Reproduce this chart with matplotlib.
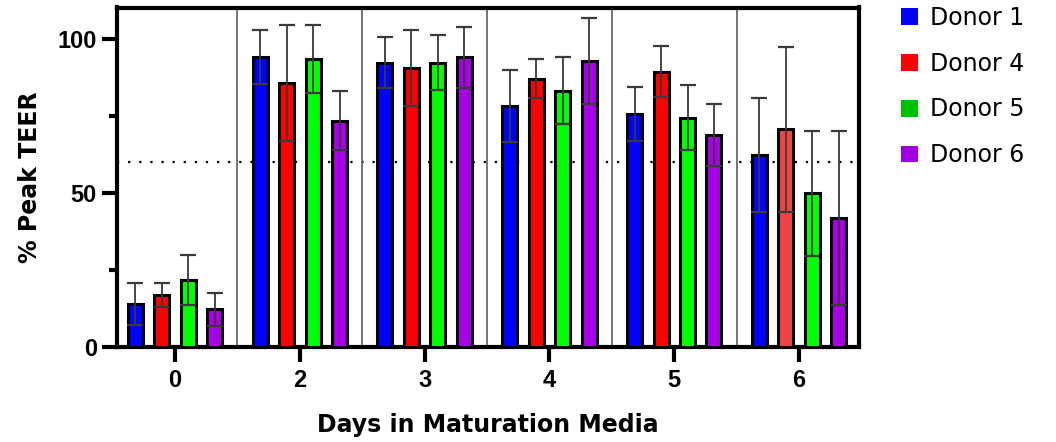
import matplotlib
matplotlib.use("Agg")
import matplotlib.pyplot as plt
from matplotlib.patches import Patch
import numpy as np

# Data: % of peak TEER (mean and SD) per donor and day
days = ["0", "2", "3", "4", "5", "6"]
donors = ["Donor 1", "Donor 4", "Donor 5", "Donor 6"]
donor1_mean = [14.0, 94.2, 92.5, 78.4, 75.8, 62.5]
donor1_sd = [6.8, 8.8, 8.3, 11.8, 8.9, 18.5]
donor4_mean = [16.8, 85.8, 90.7, 87.3, 89.5, 70.8]
donor4_sd = [3.9, 18.9, 12.3, 6.4, 8.3, 26.8]
donor5_mean = [21.8, 93.6, 92.5, 83.4, 74.6, 50.0]
donor5_sd = [8.2, 11.1, 9.0, 11.0, 10.7, 20.3]
donor6_mean = [12.3, 73.6, 94.2, 92.9, 69.0, 42.0]
donor6_sd = [5.4, 9.5, 9.9, 14.0, 10.1, 28.3]
threshold = 60

bar_colors = ["#0000FF", "#FF0000", "#00FF00", "#A800E6"]
legend_colors = ["#0000FF", "#FF0000", "#00BE00", "#A000DC"]
# day 6 bar of Donor 4 is drawn in a lighter red
special_red = "#F04444"

means = [donor1_mean, donor4_mean, donor5_mean, donor6_mean]
sds = [donor1_sd, donor4_sd, donor5_sd, donor6_sd]

tick_font = dict(family="Liberation Sans", size=17, weight="bold")

fig = plt.figure(figsize=(10.56, 4.42), dpi=100)
ax = fig.add_axes([117 / 1056, 1 - 347 / 442, (859 - 117) / 1056, (347 - 7.5) / 442])

x = np.arange(len(days))
step = 0.212
width = 0.12
offsets = [-1.5 * step, -0.5 * step, 0.5 * step, 1.5 * step]

for i in range(len(donors)):
    cols = [bar_colors[i]] * len(days)
    if i == 1:
        cols[-1] = special_red
    ax.bar(x + offsets[i], means[i], width=width, color=cols,
           edgecolor="black", linewidth=2.2, zorder=3)
    ax.errorbar(x + offsets[i], means[i], yerr=sds[i], fmt="none",
                ecolor="#3a3a3a", elinewidth=1.3, capsize=6, capthick=1.6,
                zorder=4)

# threshold line
ax.axhline(threshold, color="black", linestyle=(0, (1, 4)), linewidth=1.6,
           zorder=1)

# group separators
for s in np.arange(0.5, len(days) - 0.5, 1.0):
    ax.axvline(s, color="#6a6a6a", linewidth=1.3, zorder=2)

ax.set_xlim(-0.465, 5.48)
ax.set_ylim(0, 110.4)

ax.set_xticks(x)
ax.set_xticklabels(days, fontdict=tick_font)
ax.set_yticks([0, 50, 100])
ax.set_yticks([25, 75], minor=True)
ax.set_yticklabels(["0", "50", "100"], fontdict=tick_font)

ax.tick_params(axis="both", which="major", direction="out", length=11,
               width=3, pad=3.5)
ax.tick_params(axis="x", which="major", pad=5)
ax.tick_params(axis="y", which="minor", direction="out", length=6, width=3)

for sp in ax.spines.values():
    sp.set_linewidth(3)

ax.set_ylabel("% Peak TEER", fontsize=17, fontweight="bold", labelpad=11)
ax.set_xlabel("Days in Maturation Media", fontsize=17, fontweight="bold",
              labelpad=15)

handles = [Patch(facecolor=c, edgecolor="none") for c in legend_colors]
fig.legend(handles, donors, loc="upper left",
           bbox_to_anchor=(901 / 1056, 1 - 6 / 442), frameon=False,
           fontsize=17, handlelength=0.71, handleheight=0.71,
           handletextpad=0.5, labelspacing=0.92, borderpad=0,
           borderaxespad=0)

fig.savefig("out.png", dpi=100)
